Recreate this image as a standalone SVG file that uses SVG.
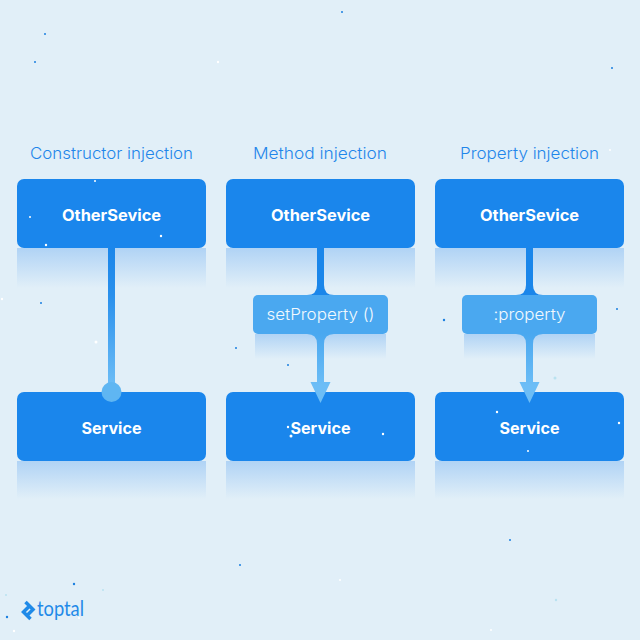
<svg xmlns="http://www.w3.org/2000/svg" width="640" height="640" viewBox="0 0 640 640">
<style>
.title{font:300 16.5px Inter,"Noto Sans",sans-serif;fill:#1f86ea;text-anchor:middle}
.name{font:700 16px Inter,"Noto Sans",sans-serif;fill:#fff;text-anchor:middle}
.lab{font:300 16px Inter,"Noto Sans",sans-serif;fill:#f2f9fe;text-anchor:middle}
.box{fill:#1a86ec}
.small{fill:#4aa8f0}
.sh{fill:url(#shade)}
.light{fill:#fff}
.dark{fill:#1a7fe0}
.pale{fill:#b9e2f0}
</style>
<defs>
<linearGradient id="shade" x1="0" y1="0" x2="0" y2="1"><stop offset="0" stop-color="#b0d3f5"/><stop offset="1" stop-color="#e1eff8"/></linearGradient>
<linearGradient id="g1" gradientUnits="userSpaceOnUse" x1="0" y1="248" x2="0" y2="385"><stop offset="0" stop-color="#1a86ea"/><stop offset="0.35" stop-color="#2a90ec"/><stop offset="1" stop-color="#6cbdf6"/></linearGradient>
<linearGradient id="g2" gradientUnits="userSpaceOnUse" x1="0" y1="334" x2="0" y2="385"><stop offset="0" stop-color="#4aa8f0"/><stop offset="1" stop-color="#6cbdf6"/></linearGradient>
</defs>
<rect width="640" height="640" fill="#e1eff8"/>
<g id="speckles">
<circle class="light" cx="218" cy="62" r="1.2"/><circle class="light" cx="96" cy="342" r="1.5"/><circle class="light" cx="2" cy="299" r="1.2"/>
<circle class="light" cx="247" cy="473" r="1.2"/><circle class="light" cx="491" cy="354" r="1"/><circle class="light" cx="491" cy="630" r="1"/><circle class="light" cx="14" cy="631" r="1.2"/><circle class="light" cx="79" cy="618" r="1"/><circle class="light" cx="340" cy="580" r="1"/><circle class="light" cx="610" cy="150" r="1"/>
<circle class="dark" cx="342" cy="12" r="1"/><circle class="dark" cx="45" cy="34" r="1"/><circle class="dark" cx="35" cy="62" r="1"/><circle class="dark" cx="612" cy="68" r="1"/><circle class="dark" cx="41" cy="303" r="1"/><circle class="dark" cx="477" cy="258" r="1.2"/><circle class="dark" cx="444" cy="320" r="1.2"/><circle class="dark" cx="617" cy="309" r="1"/><circle class="dark" cx="7" cy="617" r="1.2"/><circle class="dark" cx="74" cy="584" r="1.2"/><circle class="dark" cx="240" cy="565" r="1"/><circle class="dark" cx="510" cy="540" r="1"/><circle class="dark" cx="236" cy="348" r="1"/><circle class="dark" cx="288" cy="365" r="1"/>
<circle class="pale" cx="556" cy="600" r="1.2"/><circle class="pale" cx="555" cy="378" r="1.5"/><circle class="pale" cx="6" cy="595" r="1"/><circle class="pale" cx="103" cy="590" r="1"/>
</g>
<g id="shadows">
<rect class="sh" x="17" y="248" width="189" height="40"/><rect class="sh" x="226" y="248" width="189" height="40"/><rect class="sh" x="435" y="248" width="189" height="40"/>
<rect class="sh" x="17" y="461" width="189" height="38"/><rect class="sh" x="226" y="461" width="189" height="38"/><rect class="sh" x="435" y="461" width="189" height="38"/>
<rect class="sh" x="255" y="334" width="131" height="25"/><rect class="sh" x="464" y="334" width="131" height="25"/>
</g>
<g id="title-constructor"><text class="title" x="111.500" y="159" textLength="163" lengthAdjust="spacingAndGlyphs">Constructor injection</text></g>
<g id="title-method"><text class="title" x="320" y="159" textLength="134" lengthAdjust="spacingAndGlyphs">Method injection</text></g>
<g id="title-property"><text class="title" x="529.500" y="159" textLength="139" lengthAdjust="spacingAndGlyphs">Property injection</text></g>
<g id="otherservice-1"><rect class="box" x="17" y="179" width="189" height="69" rx="7"/><text class="name" x="111.500" y="221" textLength="99" lengthAdjust="spacingAndGlyphs">OtherSevice</text></g>
<g id="otherservice-2"><rect class="box" x="226" y="179" width="189" height="69" rx="7"/><text class="name" x="320.500" y="221" textLength="99" lengthAdjust="spacingAndGlyphs">OtherSevice</text></g>
<g id="otherservice-3"><rect class="box" x="435" y="179" width="189" height="69" rx="7"/><text class="name" x="529.500" y="221" textLength="99" lengthAdjust="spacingAndGlyphs">OtherSevice</text></g>
<g id="setproperty"><rect class="small" x="253" y="295" width="135" height="39" rx="5"/><text class="lab" x="320.500" y="320" textLength="108" lengthAdjust="spacingAndGlyphs">setProperty ()</text></g>
<g id="property"><rect class="small" x="462" y="295" width="135" height="39" rx="5"/><text class="lab" x="529.500" y="320" textLength="72" lengthAdjust="spacingAndGlyphs">:property</text></g>
<g id="service-1"><rect class="box" x="17" y="392" width="189" height="69" rx="7"/><text class="name" x="111.500" y="434" textLength="60" lengthAdjust="spacingAndGlyphs">Service</text></g>
<g id="service-2"><rect class="box" x="226" y="392" width="189" height="69" rx="7"/><text class="name" x="320.500" y="434" textLength="60" lengthAdjust="spacingAndGlyphs">Service</text></g>
<g id="service-3"><rect class="box" x="435" y="392" width="189" height="69" rx="7"/><text class="name" x="529.500" y="434" textLength="60" lengthAdjust="spacingAndGlyphs">Service</text></g>
<g id="connectors">
<rect x="108" y="248" width="7" height="144" fill="url(#g1)"/>
<circle cx="111.500" cy="392" r="10" fill="#5fb6f2"/>
<path d="M317 248V285Q317 295 307 295H334Q324 295 324 285V248Z" fill="#1a86ea"/>
<path d="M526 248V285Q526 295 516 295H543Q533 295 533 285V248Z" fill="#1a86ea"/>
<path d="M317 334H307Q317 334 317 344V382H310.500L320.500 403L330.500 382H324V344Q324 334 334 334Z" fill="url(#g2)"/>
<path d="M526 334H516Q526 334 526 344V382H519.500L529.500 403L539.500 382H533V344Q533 334 543 334Z" fill="url(#g2)"/>
</g>
<g id="logo">
<path d="M25.500 602L33 609.500L27 615.500M29.500 606L23.500 612L30.500 619" fill="none" stroke="#1f8ae8" stroke-width="3.500"/>
<text x="37" y="616" font-family="Lato,'Noto Sans',sans-serif" font-size="21" fill="#1f8ae8" textLength="47" lengthAdjust="spacingAndGlyphs">toptal</text>
</g>
<g id="speckles-top">
<circle class="light" cx="95" cy="181" r="1"/><circle class="light" cx="30" cy="217" r="1"/><circle class="light" cx="161" cy="236" r="1.200"/><circle class="light" cx="46" cy="245" r="1.200"/><circle class="light" cx="288" cy="427" r="1.200"/><circle class="light" cx="291" cy="436" r="1.500"/><circle class="light" cx="383" cy="434" r="1.200"/><circle class="light" cx="497" cy="412" r="1.200"/><circle class="light" cx="619" cy="423" r="1.200"/><circle class="light" cx="528" cy="451" r="1"/>
</g>
</svg>
